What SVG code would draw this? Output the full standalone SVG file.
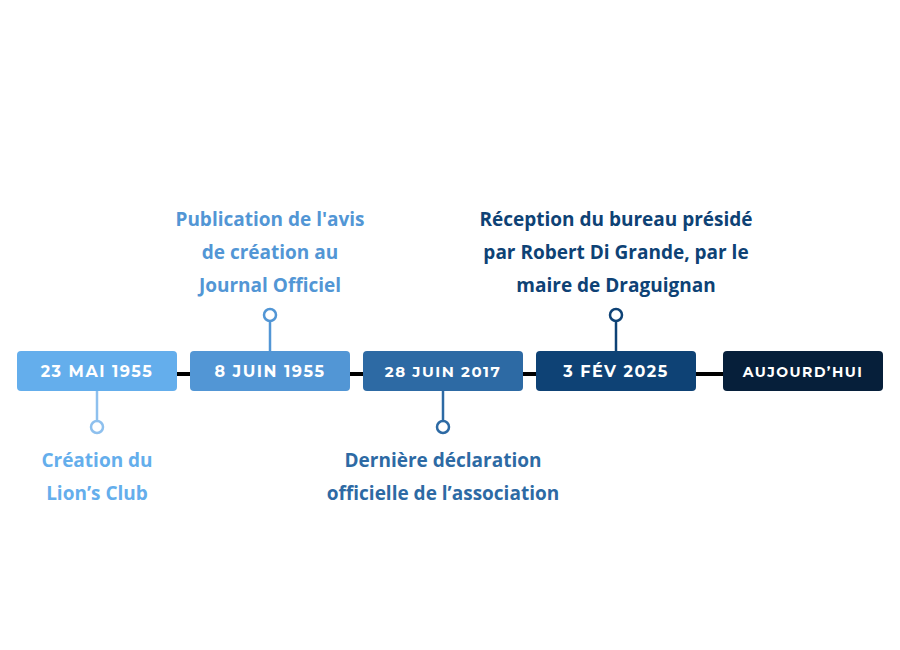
<svg xmlns="http://www.w3.org/2000/svg" width="900" height="650" viewBox="0 0 900 650">
<style>
.d{font-family:"Montserrat","Liberation Sans",Arial,sans-serif;font-weight:bold;font-size:16px;fill:#fff;text-anchor:middle;letter-spacing:1.5px}
.l{font-family:"Open Sans","Liberation Sans",sans-serif;font-weight:bold;font-size:19px;text-anchor:middle}
.s{fill:#fff;stroke-width:2.5}
</style>
<rect width="900" height="650" fill="#fff"/>
<g id="connectors">
<line x1="170" y1="374" x2="730" y2="374" stroke="#000" stroke-width="4"/>
<line x1="97" y1="391" x2="97" y2="421" stroke="#8ec0ee" stroke-width="2.5"/>
<line x1="270" y1="321" x2="270" y2="351" stroke="#5296d5" stroke-width="2.5"/>
<line x1="443" y1="391" x2="443" y2="421" stroke="#2d6aa4" stroke-width="2.5"/>
<line x1="616" y1="321" x2="616" y2="351" stroke="#0e4275" stroke-width="2.5"/>
</g>
<g id="n1"><rect x="17" y="351" width="160" height="40" rx="4" fill="#64aeec"/><text class="d" x="97" y="377">23 MAI 1955</text>
<circle class="s" cx="97" cy="427" r="6" stroke="#8ec0ee"/>
<text class="l" fill="#64aeec" x="97" y="467">Création du</text><text class="l" fill="#64aeec" x="97" y="500">Lion’s Club</text></g>
<g id="n2"><rect x="190" y="351" width="160" height="40" rx="4" fill="#5296d5"/><text class="d" x="270" y="377">8 JUIN 1955</text>
<circle class="s" cx="270" cy="315" r="6" stroke="#5296d5"/>
<text class="l" fill="#5296d5" x="270" y="226">Publication de l'avis</text><text class="l" fill="#5296d5" x="270" y="259">de création au</text><text class="l" fill="#5296d5" x="270" y="292">Journal Officiel</text></g>
<g id="n3"><rect x="363" y="351" width="160" height="40" rx="4" fill="#2d6aa4"/><text class="d" x="443" y="377" style="font-size:15px">28 JUIN 2017</text>
<circle class="s" cx="443" cy="427" r="6" stroke="#2d6aa4"/>
<text class="l" fill="#2d6aa4" x="443" y="467">Dernière déclaration</text><text class="l" fill="#2d6aa4" x="443" y="500">officielle de l’association</text></g>
<g id="n4"><rect x="536" y="351" width="160" height="40" rx="4" fill="#0e4275"/><text class="d" x="616" y="377">3 FÉV 2025</text>
<circle class="s" cx="616" cy="315" r="6" stroke="#0e4275"/>
<text class="l" fill="#0e4275" x="616" y="226">Réception du bureau présidé</text><text class="l" fill="#0e4275" x="616" y="259">par Robert Di Grande, par le</text><text class="l" fill="#0e4275" x="616" y="292">maire de Draguignan</text></g>
<g id="n5"><rect x="723" y="351" width="160" height="40" rx="4" fill="#061f3a"/><text class="d" x="803" y="377" style="font-size:14px">AUJOURD’HUI</text></g>
</svg>
